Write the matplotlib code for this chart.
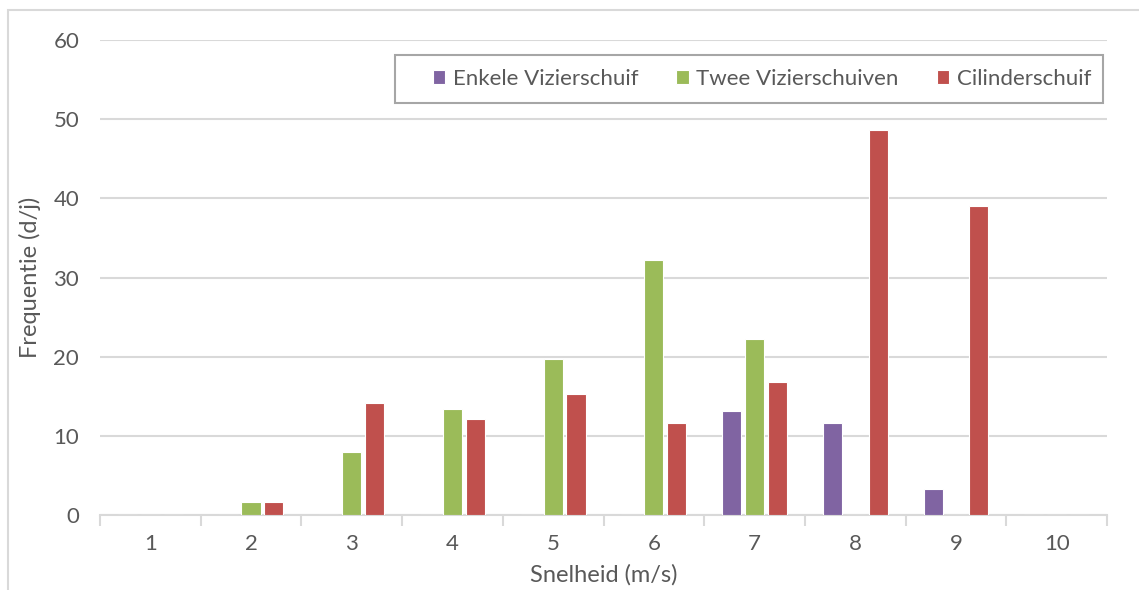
import matplotlib
matplotlib.use("Agg")
import matplotlib.pyplot as plt
import numpy as np
from matplotlib.patches import Rectangle

plt.rcParams['font.family'] = ['Lato', 'DejaVu Sans']

# Snelheid categories (m/s)
categories = ['1', '2', '3', '4', '5', '6', '7', '8', '9', '10']
series_names = ['Enkele Vizierschuif', 'Twee Vizierschuiven', 'Cilinderschuif']
enkele = [0, 0, 0, 0, 0, 0, 13.2, 11.6, 3.3, 0]
twee = [0, 1.6, 7.9, 13.4, 19.7, 32.2, 22.2, 0, 0, 0]
cilinder = [0, 1.6, 14.2, 12.1, 15.3, 11.6, 16.8, 48.6, 39.0, 0]
yticks = [0, 10, 20, 30, 40, 50, 60]

colors = ['#8064A2', '#9BBB59', '#C0504D']
text_col = '#595959'
grid_col = '#D9D9D9'

W, H = 1139, 590
fig = plt.figure(figsize=(W / 100, H / 100), dpi=100)

# outer chart frame
fig.patches.append(Rectangle((8 / W, -0.05), 1.2, (H - 10) / H + 0.05,
                             transform=fig.transFigure, fill=False,
                             edgecolor='#D9D9D9', linewidth=1.5))

left, right = 100, 1107
top, bottom = 40, 515
ax = fig.add_axes([left / W, 1 - bottom / H, (right - left) / W, (bottom - top) / H])

x = np.arange(len(categories))
step = 0.227
width = 0.19
for i, (vals, name, c) in enumerate(zip([enkele, twee, cilinder], series_names, colors)):
    ax.bar(x + (i - 1) * step, vals, width=width, color=c, edgecolor='white',
           linewidth=0.8, label=name, zorder=3)

ax.set_xlim(-0.5, len(categories) - 0.5)
ax.set_ylim(0, 60)
ax.set_yticks(yticks)
ax.yaxis.grid(True, color=grid_col, linewidth=1.5, zorder=0)
ax.set_axisbelow(True)

for s in ['top', 'right', 'left']:
    ax.spines[s].set_visible(False)
ax.spines['bottom'].set_color(grid_col)
ax.spines['bottom'].set_linewidth(1.5)

# category boundaries as ticks, labels centred in each category
ax.set_xticks(np.arange(len(categories) + 1) - 0.5)
ax.set_xticklabels([])
ax.set_xticks(x, minor=True)
ax.set_xticklabels(categories, minor=True)
ax.tick_params(axis='x', which='major', length=8, width=1.5, color=grid_col)
ax.tick_params(axis='x', which='minor', length=0, pad=14, labelsize=16, labelcolor=text_col)
ax.tick_params(axis='y', length=0, pad=15, labelsize=16, labelcolor=text_col)

ax.set_xlabel('Snelheid (m/s)', fontsize=17, color=text_col, labelpad=7)
ax.set_ylabel('Frequentie (d/j)', fontsize=17, color=text_col, labelpad=9)

# legend frame drawn separately so its padding can be set per side
fig.patches.append(Rectangle((395 / W, 1 - 103 / H), (1103 - 395) / W, 48 / H,
                             transform=fig.transFigure, fill=False,
                             edgecolor='#A6A6A6', linewidth=1.5, zorder=5))
leg = ax.legend(loc='center right', bbox_to_anchor=(1091 / W, 1 - 79 / H),
                bbox_transform=fig.transFigure, ncol=3, frameon=False,
                fontsize=16, handlelength=0.55, handleheight=0.55,
                handletextpad=0.35, columnspacing=1.7, borderpad=0,
                borderaxespad=0)
for t in leg.get_texts():
    t.set_color(text_col)

fig.savefig('out.png', dpi=100)
